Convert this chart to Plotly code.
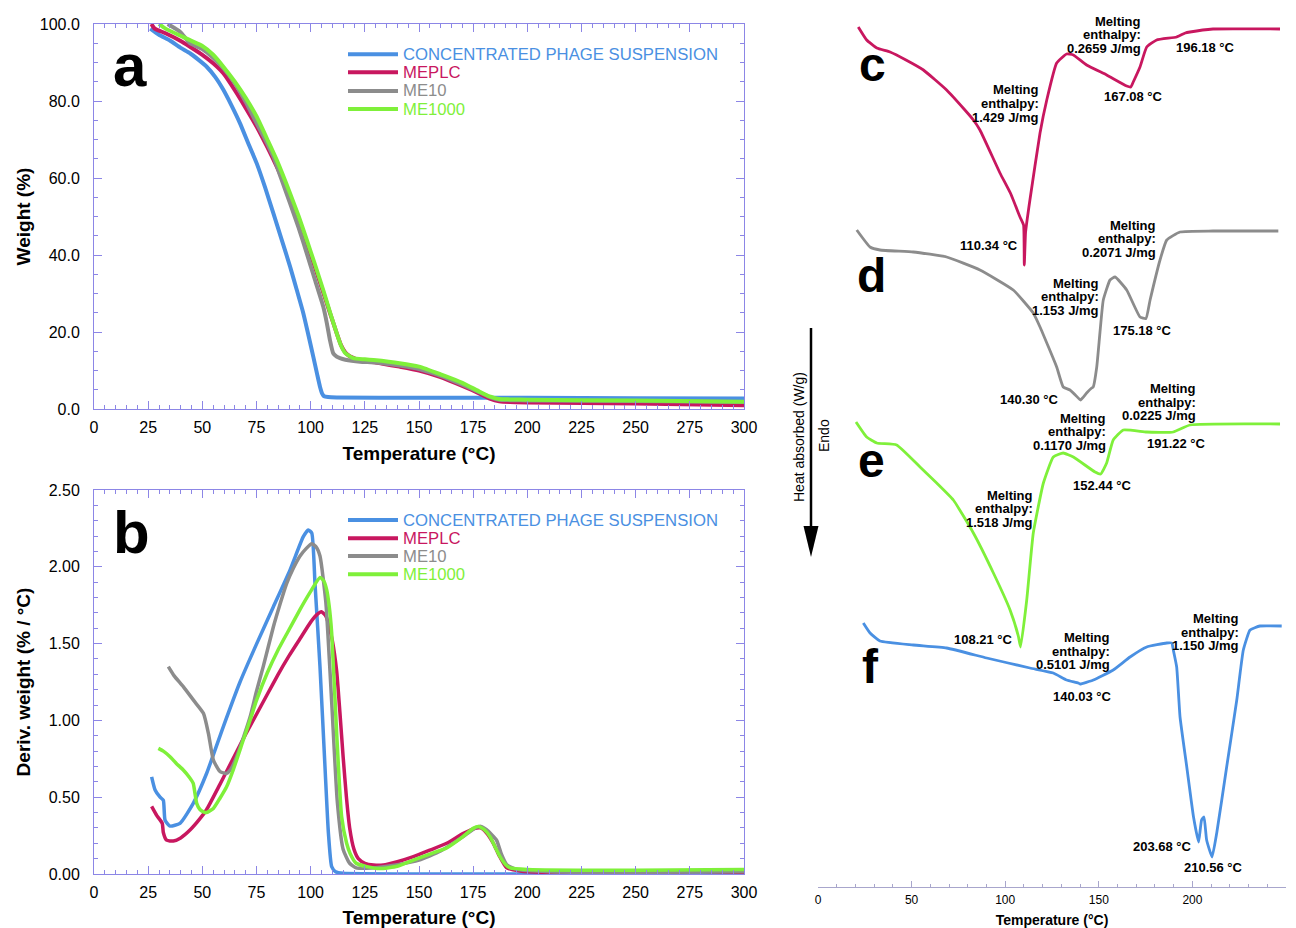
import plotly.graph_objects as go

W_FIG, H_FIG = 1296, 928
FONT = "Liberation Sans, Arial, sans-serif"

C_BLUE = "#4a90e2"
C_RED = "#c8175f"
C_GRAY = "#8c8c8c"
C_GREEN = "#7ff03a"
FRAME = "#8c86e6"

series_names = ["CONCENTRATED PHAGE SUSPENSION", "MEPLC", "ME10", "ME1000"]
series_colors = [C_BLUE, C_RED, C_GRAY, C_GREEN]

# ---------------- (a) TGA weight (%) ----------------
tga_phage_T = [26, 30, 35, 40, 44.3, 48, 52, 56, 59.7, 63.5, 67.4, 71, 75.1, 79, 82.8, 86.5, 90.5, 93.5, 96.6, 99, 101.2, 103, 104.3, 105.3, 106.2, 108, 112, 150, 200, 250, 300]
tga_phage_W = [98.8, 97.2, 95.7, 93.8, 92.4, 90.8, 88.9, 86.2, 82.9, 78.8, 74.2, 69.3, 63.8, 57.5, 50.8, 44.2, 37, 31.1, 24.9, 19.1, 13.6, 9.0, 5.8, 4.0, 3.3, 3.1, 3.0, 2.9, 2.9, 2.8, 2.7]

tga_meplc_T = [26.5, 28, 33, 40, 44.3, 50, 55, 59.7, 65, 70, 75.1, 80, 84.3, 90.5, 94.5, 98.2, 102, 105.8, 109, 112, 114, 116, 118, 120, 123, 130, 141, 150, 160, 170, 178, 183, 187, 192, 200, 250, 300]
tga_meplc_W = [100, 98.8, 97.6, 95.6, 94.1, 92, 89.8, 87.2, 82.8, 78.2, 73.3, 68, 63, 55.1, 49.2, 43, 36.8, 30.3, 24.8, 19.7, 16.6, 14.7, 13.7, 13.2, 12.5, 12.1, 11, 10, 8.3, 6, 4, 2.6, 2.0, 1.8, 1.7, 1.4, 1.0]

tga_me10_T = [34, 39.7, 44.3, 50, 55, 60, 65, 70, 75.1, 79, 82.8, 86.5, 90.5, 94.5, 98.2, 102, 105.8, 107.5, 108.9, 110.4, 112, 113.5, 116, 122.8, 130, 141, 150, 160, 170, 178, 183, 187, 192, 200, 250, 300]
tga_me10_W = [100, 98, 95, 93.5, 91.2, 88.3, 84.6, 79.8, 74.2, 70, 65.5, 59.7, 53.4, 47, 40.4, 33.5, 26.6, 22.2, 17.9, 14.5, 13.6, 13.2, 12.8, 12.3, 12.1, 11.3, 10.4, 8.6, 6.3, 4.3, 3.0, 2.4, 2.3, 2.2, 2.1, 1.8]

tga_me1000_T = [30, 33, 39.7, 44.3, 50, 55, 59.7, 65, 70, 75.1, 80, 84.3, 90.5, 94.5, 98.2, 102, 105.8, 109, 112, 114, 116, 119.7, 125, 129, 141, 150, 160, 170, 178, 183, 187, 192, 200, 250, 300]
tga_me1000_W = [100, 98.8, 97, 95.8, 94.3, 92, 88.9, 85, 80.8, 75.9, 70, 64.7, 56, 50, 43.9, 37.5, 30.9, 25, 19.7, 16.5, 14.5, 13.2, 12.9, 12.7, 11.9, 11, 9, 6.8, 4.5, 3.2, 2.6, 2.5, 2.4, 2.2, 1.9]

# ---------------- (b) DTG deriv. weight (%/°C) ----------------
dtg_phage_T = [26.6, 28.2, 30.5, 32, 32.8, 35.1, 39.7, 45.8, 52, 59.7, 67.4, 75.1, 82.8, 90.5, 96.6, 98.9, 100.5, 102, 104.3, 106.6, 108.2, 109.7, 111.5, 115, 150, 200, 250, 300]
dtg_phage_V = [0.633, 0.547, 0.50, 0.48, 0.35, 0.312, 0.33, 0.46, 0.656, 0.96, 1.25, 1.50, 1.74, 1.98, 2.196, 2.24, 2.22, 1.89, 1.35, 0.70, 0.265, 0.048, 0.015, 0.005, 0.0, 0.0, 0.0, 0.0]

dtg_meplc_T = [26.6, 29, 31.5, 32, 33.5, 36.6, 40, 44.3, 48.9, 52, 58, 62, 66, 70, 75, 80, 85, 90, 95, 100, 103, 105, 107, 108, 110, 112, 113.5, 115, 116.5, 118, 120, 122, 125, 129, 133.5, 140, 147.4, 155, 162.8, 170.5, 176.6, 178.5, 181, 184.3, 187, 190.5, 196.6, 210, 250, 270, 278, 285, 300]
dtg_meplc_V = [0.44, 0.38, 0.33, 0.27, 0.22, 0.215, 0.235, 0.286, 0.36, 0.42, 0.58, 0.69, 0.80, 0.91, 1.04, 1.17, 1.30, 1.42, 1.53, 1.64, 1.69, 1.707, 1.68, 1.64, 1.52, 1.32, 1.05, 0.76, 0.5, 0.3, 0.16, 0.1, 0.07, 0.058, 0.058, 0.08, 0.113, 0.155, 0.2, 0.265, 0.30, 0.30, 0.27, 0.2, 0.12, 0.04, 0.02, 0.01, 0.01, 0.012, 0.02, 0.015, 0.012]

dtg_me10_T = [34.3, 37, 41.2, 46, 50.5, 52.8, 55.1, 58.2, 61.2, 63.5, 65.8, 69, 72, 75, 78.1, 82.8, 85.5, 88.9, 92, 95.1, 98, 100.5, 102.5, 104.3, 107, 109.7, 112.3, 115, 118, 121, 125.9, 130, 140, 150, 160, 170, 176, 178.5, 181, 185.8, 188, 190.5, 195, 210, 250, 300]
dtg_me10_V = [1.35, 1.29, 1.22, 1.13, 1.046, 0.916, 0.742, 0.666, 0.655, 0.69, 0.763, 0.89, 1.02, 1.19, 1.35, 1.61, 1.74, 1.89, 1.99, 2.07, 2.12, 2.15, 2.13, 2.07, 1.77, 1.12, 0.47, 0.16, 0.07, 0.04, 0.037, 0.04, 0.06, 0.09, 0.15, 0.24, 0.3, 0.31, 0.29, 0.22, 0.13, 0.06, 0.03, 0.015, 0.01, 0.015]

dtg_me1000_T = [29.7, 32, 35.1, 38, 41.2, 44, 45.8, 46.6, 47.4, 48.9, 50.5, 52, 55.1, 58, 61.2, 64.3, 68.9, 72, 75, 80, 85, 90, 95, 100, 104.3, 106, 107.4, 108.5, 109.7, 112, 114.3, 116.6, 118.2, 121, 125.9, 132, 140, 147.4, 155, 162.8, 170, 175, 177.4, 180, 182.8, 185, 187.4, 190, 192, 200, 250, 300]
dtg_me1000_V = [0.818, 0.80, 0.764, 0.72, 0.677, 0.63, 0.59, 0.525, 0.46, 0.42, 0.405, 0.40, 0.427, 0.49, 0.568, 0.68, 0.872, 1.0, 1.13, 1.31, 1.46, 1.59, 1.72, 1.84, 1.93, 1.91, 1.85, 1.75, 1.57, 0.916, 0.373, 0.2, 0.134, 0.07, 0.048, 0.035, 0.05, 0.09, 0.13, 0.17, 0.24, 0.297, 0.31, 0.29, 0.243, 0.18, 0.113, 0.06, 0.04, 0.03, 0.025, 0.03]

# ---------------- (c-f) DSC heat flow, offset curves (a.u.) ----------------
dsc_c_T = [21.5, 26, 31.4, 38.5, 47, 56.3, 68.7, 78, 83, 86.5, 97.2, 103, 107.9, 109.8, 110.2, 110.9, 113.2, 118.6, 122.2, 127.5, 132.8, 136.4, 143.5, 154.2, 164.9, 167.1, 168.4, 172, 175.6, 180.9, 191.6, 196.2, 198.7, 211, 246.8]
dsc_c_v = [8.60, 8.47, 8.39, 8.35, 8.27, 8.17, 7.97, 7.78, 7.67, 7.57, 7.14, 6.93, 6.70, 6.62, 6.22, 6.55, 6.87, 7.54, 7.87, 8.24, 8.33, 8.32, 8.22, 8.12, 8.01, 8.00, 8.05, 8.20, 8.40, 8.47, 8.50, 8.54, 8.55, 8.58, 8.58]

dsc_d_T = [20.7, 27.8, 33.1, 50.9, 68.7, 86.5, 104.3, 115, 118.6, 127.5, 131, 134.6, 139.6, 140.3, 143.5, 146.2, 147, 148.9, 150.6, 152.4, 156, 158.7, 164.9, 172, 175.2, 177.4, 182.7, 186.3, 193.4, 211, 245.9]
dsc_d_v = [6.57, 6.40, 6.37, 6.35, 6.30, 6.17, 5.97, 5.74, 5.60, 5.20, 5.00, 4.97, 4.88, 4.87, 4.94, 4.99, 5.00, 5.20, 5.54, 5.87, 6.07, 6.10, 5.97, 5.70, 5.685, 5.87, 6.27, 6.47, 6.55, 6.56, 6.56]

dsc_e_T = [20.3, 26, 31.4, 42, 54.5, 63.4, 72.3, 83, 93.7, 102.6, 107, 108.2, 111.5, 115, 120.4, 125.7, 131, 136.4, 148, 151, 154.2, 157.7, 163.1, 175.6, 189.8, 198.7, 246.8]
dsc_e_v = [4.65, 4.50, 4.44, 4.42, 4.20, 4.04, 3.87, 3.54, 3.14, 2.77, 2.51, 2.40, 2.87, 3.54, 4.04, 4.30, 4.34, 4.30, 4.15, 4.13, 4.24, 4.47, 4.57, 4.55, 4.55, 4.62, 4.63]

dsc_f_T = [24.2, 27.8, 33.1, 50.9, 68.7, 90.1, 113.2, 125.7, 132.8, 139, 140, 147.1, 157.7, 166.7, 175.6, 186.3, 189, 189.8, 191.6, 193.4, 197, 200.6, 203.3, 204.9, 206.2, 207.6, 210.5, 213, 218.3, 223.7, 227.2, 230.8, 236.1, 247.7]
dsc_f_v = [2.64, 2.54, 2.46, 2.42, 2.39, 2.29, 2.19, 2.14, 2.07, 2.04, 2.03, 2.07, 2.17, 2.30, 2.40, 2.44, 2.44, 2.37, 2.20, 1.70, 1.20, 0.70, 0.45, 0.67, 0.70, 0.47, 0.30, 0.54, 1.20, 1.87, 2.37, 2.57, 2.61, 2.61]

peak_labels = ["110.34 °C", "167.08 °C", "196.18 °C", "140.30 °C", "175.18 °C",
               "108.21 °C", "152.44 °C", "191.22 °C", "140.03 °C", "203.68 °C", "210.56 °C"]
enthalpy_labels = ["1.429 J/mg", "0.2659 J/mg", "1.153 J/mg", "0.2071 J/mg",
                   "1.518 J/mg", "0.1170 J/mg", "0.0225 J/mg", "0.5101 J/mg", "1.150 J/mg"]

fig = go.Figure()

tga = [(tga_phage_T, tga_phage_W), (tga_meplc_T, tga_meplc_W), (tga_me10_T, tga_me10_W), (tga_me1000_T, tga_me1000_W)]
dtg = [(dtg_phage_T, dtg_phage_V), (dtg_meplc_T, dtg_meplc_V), (dtg_me10_T, dtg_me10_V), (dtg_me1000_T, dtg_me1000_V)]

for (t, w), nm, col in zip(tga, series_names, series_colors):
    fig.add_trace(go.Scatter(x=t, y=w, mode="lines", name=nm, showlegend=False,
                             line=dict(color=col, width=4, shape="spline", smoothing=0.5),
                             xaxis="x", yaxis="y"))
for (t, v), nm, col in zip(dtg, series_names, series_colors):
    fig.add_trace(go.Scatter(x=t, y=v, mode="lines", name=nm, showlegend=False,
                             line=dict(color=col, width=3.5, shape="spline", smoothing=0.5),
                             xaxis="x2", yaxis="y2"))

dsc = [(dsc_c_T, dsc_c_v, C_RED), (dsc_d_T, dsc_d_v, C_GRAY), (dsc_e_T, dsc_e_v, C_GREEN), (dsc_f_T, dsc_f_v, C_BLUE)]
for t, v, col in dsc:
    fig.add_trace(go.Scatter(x=t, y=v, mode="lines", showlegend=False,
                             line=dict(color=col, width=2.8, shape="spline", smoothing=0.4),
                             xaxis="x3", yaxis="y3"))


def frame_axis(**kw):
    d = dict(showline=True, linecolor=FRAME, linewidth=1, mirror="allticks", ticks="inside", ticklen=8,
             tickcolor=FRAME, tickwidth=1, showgrid=False, zeroline=False, automargin=False,
             tickfont=dict(size=16, color="black", family=FONT),
             minor=dict(ticks="inside", ticklen=4, tickcolor=FRAME, showgrid=False))
    d.update(kw)
    return d


def px(x):
    return x / W_FIG


def py(y):
    return 1 - y / H_FIG


xa_dom = [px(94), px(744)]
title_font = dict(size=19, family=FONT, color="black")

fig.update_layout(
    width=W_FIG, height=H_FIG, autosize=False,
    margin=dict(l=0, r=0, t=0, b=0),
    paper_bgcolor="white", plot_bgcolor="white",
    font=dict(family=FONT, color="black"),
    showlegend=False,
    xaxis=frame_axis(domain=xa_dom, anchor="y", range=[0, 300], tickmode="linear", tick0=0, dtick=25,
                     minor_dtick=5, ticklabelstandoff=4,
                     title=dict(text="<b>Temperature (°C)</b>", font=title_font, standoff=11)),
    yaxis=frame_axis(domain=[py(409), py(24)], anchor="x", range=[0, 100], tickmode="linear", tick0=0, dtick=20,
                     tickformat=".1f", minor_dtick=5, ticklabelstandoff=10,
                     title=dict(text="<b>Weight (%)</b>", font=title_font, standoff=4)),
    xaxis2=frame_axis(domain=xa_dom, anchor="y2", range=[0, 300], tickmode="linear", tick0=0, dtick=25,
                      minor_dtick=5, ticklabelstandoff=4,
                      title=dict(text="<b>Temperature (°C)</b>", font=title_font, standoff=11)),
    yaxis2=frame_axis(domain=[py(874), py(490)], anchor="x2", range=[0, 2.5], tickmode="linear", tick0=0, dtick=0.5,
                      tickformat=".2f", minor_dtick=0.1, ticklabelstandoff=10,
                      title=dict(text="<b>Deriv. weight (% / °C)</b>", font=title_font, standoff=13)),
    xaxis3=dict(domain=[px(818), px(1286)], anchor="y3", range=[0, 250], showline=True, linecolor="#a8a6cc",
                linewidth=1, ticks="inside", ticklen=6, tickcolor="#a8a6cc", tickmode="linear", tick0=0, dtick=50,
                minor=dict(ticks="inside", ticklen=3, dtick=10, tickcolor="#a8a6cc", showgrid=False),
                showgrid=False, zeroline=False, automargin=False, ticklabelstandoff=2,
                tickfont=dict(size=12, color="black", family=FONT),
                title=dict(text="<b>Temperature (°C)</b>", font=dict(size=14, family=FONT, color="black"), standoff=10)),
    yaxis3=dict(domain=[py(887), 1], anchor="x3", range=[0, 8.87], visible=False, showgrid=False, zeroline=False),
)

anns = []
shapes = []


def txt(s, x, y, size=13, bold=True, xanchor="center", textangle=0, color="black"):
    anns.append(dict(text=f"<b>{s}</b>" if bold else s, xref="paper", yref="paper", x=px(x), y=py(y),
                     showarrow=False, xanchor=xanchor, yanchor="middle", textangle=textangle,
                     font=dict(size=size, family=FONT, color=color)))


def melt(value, x_right, y_first, dy=13.7):
    for i, line in enumerate(["Melting", "enthalpy:", value]):
        txt(line, x_right, y_first + i * dy, xanchor="right")


# legends (panels a and b)
legend_rows = {"a": [54.3, 72.3, 91, 109], "b": [520, 538.3, 556, 574.3]}
for rows in legend_rows.values():
    for nm, col, yy in zip(series_names, series_colors, rows):
        shapes.append(dict(type="line", xref="paper", yref="paper", x0=px(348), x1=px(398), y0=py(yy), y1=py(yy),
                           line=dict(color=col, width=4)))
        txt(nm, 401, yy, size=16.7, bold=False, xanchor="left", color=col)

# panel letters
txt("a", 130, 66, size=60)
txt("b", 131, 532, size=60)
txt("c", 872, 65, size=48)
txt("d", 871, 275, size=48)
txt("e", 871, 460, size=48)
txt("f", 870, 666, size=48)

# DSC peak labels
peak_pos = [(988.7, 245), (1133.3, 96.7), (1205, 47.7), (1029, 399.3), (1142.7, 330),
            (983, 639), (1102, 485.7), (1176.7, 443.3), (1082.5, 696.7), (1162, 846.7), (1213.7, 867.3)]
for lab, (x, y) in zip(peak_labels, peak_pos):
    txt(lab, x, y)

enth_pos = [(1041, 90), (1142.7, 21), (1100.7, 283.3), (1158.3, 225), (1035, 495), (1108.3, 418.3),
            (1197.7, 388.3), (1111.7, 637.3), (1241, 618.3)]
for lab, (x, y) in zip(enthalpy_labels, enth_pos):
    melt(lab, x, y)

txt("Heat absorbed (W/g)", 799, 437, size=14, bold=False, textangle=-90)
txt("Endo", 824, 436, size=14, bold=False, textangle=-90)

# endothermic arrow
shapes.append(dict(type="line", xref="paper", yref="paper", x0=px(811), x1=px(811), y0=py(328), y1=py(530),
                   line=dict(color="black", width=2.5)))
shapes.append(dict(type="path", xref="paper", yref="paper",
                   path=f"M {px(803.5)} {py(526)} L {px(818.5)} {py(526)} L {px(811)} {py(557)} Z",
                   fillcolor="black", line=dict(color="black", width=0)))

fig.update_layout(annotations=anns, shapes=shapes)

fig.write_html("out.html", config={"displayModeBar": False},
               post_script="document.body.style.margin='0px';document.body.style.overflow='hidden';")
